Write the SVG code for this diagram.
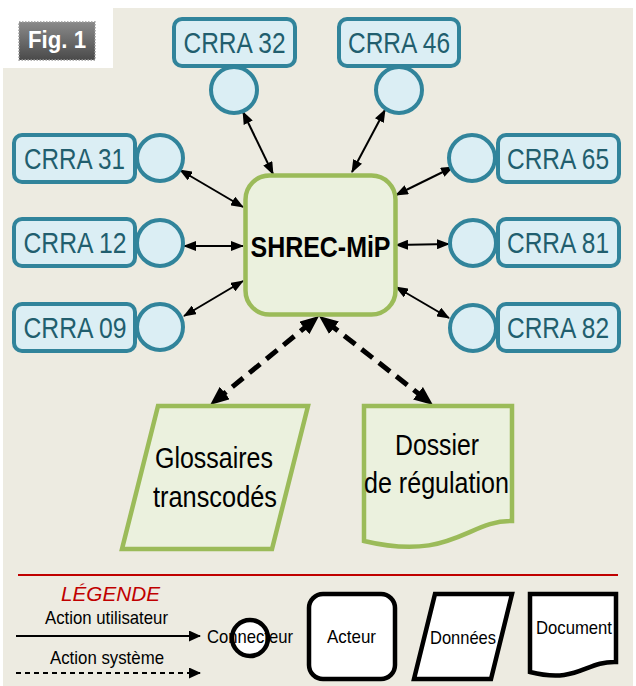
<svg xmlns="http://www.w3.org/2000/svg" width="636" height="686" viewBox="0 0 636 686">
  <defs>
    <style>
      .crra rect { fill: #DBEEF4; stroke: #31849B; stroke-width: 4; }
      .crra circle { fill: #DBEEF4; stroke: #31849B; stroke-width: 4; }
      .crra text { font-family: "Liberation Sans", Arial, sans-serif; font-size: 30px; fill: #215E6E; text-anchor: middle; }
      .green { fill: #EBF1DE; stroke: #9BBB59; stroke-width: 4.5; }
      .dtext { font-family: "Liberation Sans", Arial, sans-serif; font-size: 29px; fill: #000; text-anchor: middle; }
      .solid { stroke: #000; stroke-width: 2; fill: none; marker-start: url(#ah); marker-end: url(#ah); }
      .dash { stroke: #000; stroke-width: 5; fill: none; stroke-dasharray: 14 8; marker-start: url(#ahd); marker-end: url(#ahd); }
      .leg { fill: #fff; stroke: #000; stroke-width: 4.5; }
      .ltext { font-family: "Liberation Sans", Arial, sans-serif; font-size: 19px; fill: #000; text-anchor: middle; }
    </style>
    <marker id="ah" markerUnits="userSpaceOnUse" markerWidth="13" markerHeight="10" refX="12" refY="5" orient="auto-start-reverse">
      <path d="M0,0 L13,5 L0,10 Z" fill="#000"/>
    </marker>
    <marker id="ahd" markerUnits="userSpaceOnUse" markerWidth="19" markerHeight="16" refX="9" refY="8" orient="auto-start-reverse">
      <path d="M0,0 L19,8 L0,16 Z" fill="#000"/>
    </marker>
    <marker id="ahl" markerUnits="userSpaceOnUse" markerWidth="12" markerHeight="11" refX="11" refY="5.5" orient="auto">
      <path d="M0,0 L12,5.5 L0,11 Z" fill="#000"/>
    </marker>
    <linearGradient id="figg" x1="0" y1="0" x2="0" y2="1">
      <stop offset="0" stop-color="#8a8a8a"/>
      <stop offset="1" stop-color="#4a4a4a"/>
    </linearGradient>
  </defs>

  <rect x="0" y="0" width="636" height="686" fill="#fff"/>
  <rect x="3" y="8" width="630" height="678" fill="#EDEBE1"/>
  <rect x="3" y="8" width="110" height="60" fill="#fff"/>

  <g id="fig-badge">
    <rect x="19" y="22" width="76" height="38" fill="url(#figg)" stroke="#9a9a9a" stroke-width="1.5" stroke-dasharray="1.5 1.5"/>
    <text x="57" y="48" font-family="Liberation Sans, Arial, sans-serif" font-size="24" font-weight="bold" fill="#fff" text-anchor="middle" textLength="58" lengthAdjust="spacingAndGlyphs">Fig. 1</text>
  </g>

  <g id="connectors">
    <line class="solid" x1="243" y1="112" x2="273" y2="174"/>
    <line class="solid" x1="385" y1="110" x2="352" y2="172"/>
    <line class="solid" x1="180" y1="170" x2="243" y2="207"/>
    <line class="solid" x1="184" y1="246" x2="243" y2="246"/>
    <line class="solid" x1="184" y1="316" x2="243" y2="281"/>
    <line class="solid" x1="453" y1="167" x2="396" y2="195"/>
    <line class="solid" x1="449" y1="244" x2="396" y2="245"/>
    <line class="solid" x1="449" y1="318" x2="396" y2="287"/>
    <line class="dash" x1="311.3" y1="322.3" x2="217.8" y2="398.7"/>
    <line class="dash" x1="326.9" y1="322.2" x2="425.1" y2="398.8"/>
  </g>

  <g id="crra32" class="crra">
    <rect x="174" y="19" width="121" height="47" rx="8"/>
    <circle cx="234" cy="90" r="23"/>
    <text x="234.5" y="53" textLength="102" lengthAdjust="spacingAndGlyphs">CRRA 32</text>
  </g>
  <g id="crra46" class="crra">
    <rect x="339" y="19" width="120" height="47" rx="8"/>
    <circle cx="399" cy="90" r="23"/>
    <text x="399" y="53" textLength="102" lengthAdjust="spacingAndGlyphs">CRRA 46</text>
  </g>
  <g id="crra31" class="crra">
    <rect x="14" y="135" width="121" height="47" rx="8"/>
    <circle cx="160" cy="158" r="23"/>
    <text x="74.5" y="169" textLength="101" lengthAdjust="spacingAndGlyphs">CRRA 31</text>
  </g>
  <g id="crra12" class="crra">
    <rect x="14" y="219" width="121" height="47" rx="8"/>
    <circle cx="160" cy="243" r="23"/>
    <text x="75" y="253" textLength="103" lengthAdjust="spacingAndGlyphs">CRRA 12</text>
  </g>
  <g id="crra09" class="crra">
    <rect x="14" y="304" width="121" height="47" rx="8"/>
    <circle cx="160" cy="327" r="23"/>
    <text x="75" y="338" textLength="103" lengthAdjust="spacingAndGlyphs">CRRA 09</text>
  </g>
  <g id="crra65" class="crra">
    <rect x="498" y="135" width="121" height="47" rx="8"/>
    <circle cx="472" cy="158" r="23"/>
    <text x="558" y="169" textLength="102" lengthAdjust="spacingAndGlyphs">CRRA 65</text>
  </g>
  <g id="crra81" class="crra">
    <rect x="498" y="219" width="121" height="47" rx="8"/>
    <circle cx="473" cy="243" r="23"/>
    <text x="558" y="253" textLength="102" lengthAdjust="spacingAndGlyphs">CRRA 81</text>
  </g>
  <g id="crra82" class="crra">
    <rect x="498" y="304" width="121" height="47" rx="8"/>
    <circle cx="473" cy="328" r="23"/>
    <text x="558" y="338" textLength="102" lengthAdjust="spacingAndGlyphs">CRRA 82</text>
  </g>

  <g id="shrec">
    <rect class="green" x="245.5" y="175.5" width="150" height="139" rx="24"/>
    <text x="320.5" y="257" font-family="Liberation Sans, Arial, sans-serif" font-size="30" font-weight="bold" fill="#000" text-anchor="middle" textLength="140" lengthAdjust="spacingAndGlyphs">SHREC-MiP</text>
  </g>

  <g id="glossaires">
    <polygon class="green" points="158,406 308,406 272,549 122,549"/>
    <text class="dtext" x="214" y="468" textLength="118" lengthAdjust="spacingAndGlyphs">Glossaires</text>
    <text class="dtext" x="215" y="507" textLength="124" lengthAdjust="spacingAndGlyphs">transcodés</text>
  </g>

  <g id="dossier">
    <path class="green" d="M364,406 H512 V521 C468,520 452,562 364,541 Z"/>
    <text class="dtext" x="437" y="455" textLength="84" lengthAdjust="spacingAndGlyphs">Dossier</text>
    <text class="dtext" x="436.5" y="493" textLength="145" lengthAdjust="spacingAndGlyphs">de régulation</text>
  </g>

  <g id="legend">
    <line x1="18" y1="575" x2="618" y2="575" stroke="#C00000" stroke-width="2"/>
    <text x="110.5" y="601" font-family="Liberation Sans, Arial, sans-serif" font-size="20" font-style="italic" fill="#C00000" text-anchor="middle" textLength="99" lengthAdjust="spacingAndGlyphs">LÉGENDE</text>
    <text class="ltext" x="106.5" y="624" textLength="123" lengthAdjust="spacingAndGlyphs">Action utilisateur</text>
    <line x1="16" y1="636" x2="200" y2="636" stroke="#000" stroke-width="2" marker-end="url(#ahl)"/>
    <text class="ltext" x="107" y="664" textLength="114" lengthAdjust="spacingAndGlyphs">Action système</text>
    <line x1="16" y1="673" x2="200" y2="673" stroke="#000" stroke-width="2" stroke-dasharray="5 4" marker-end="url(#ahl)"/>
    <circle class="leg" cx="250" cy="638" r="18"/>
    <text class="ltext" x="250" y="643" textLength="86" lengthAdjust="spacingAndGlyphs">Connecteur</text>
    <rect class="leg" x="309" y="594" width="86" height="85" rx="14"/>
    <text class="ltext" x="351.5" y="643" textLength="49" lengthAdjust="spacingAndGlyphs">Acteur</text>
    <polygon class="leg" points="435,594 512,594 491,679 414,679"/>
    <text class="ltext" x="463" y="644" textLength="66" lengthAdjust="spacingAndGlyphs">Données</text>
    <path class="leg" d="M530,594 H616 V662 C585,661 578,684 530,672 Z"/>
    <text class="ltext" x="574" y="634" textLength="76" lengthAdjust="spacingAndGlyphs">Document</text>
  </g>
</svg>
